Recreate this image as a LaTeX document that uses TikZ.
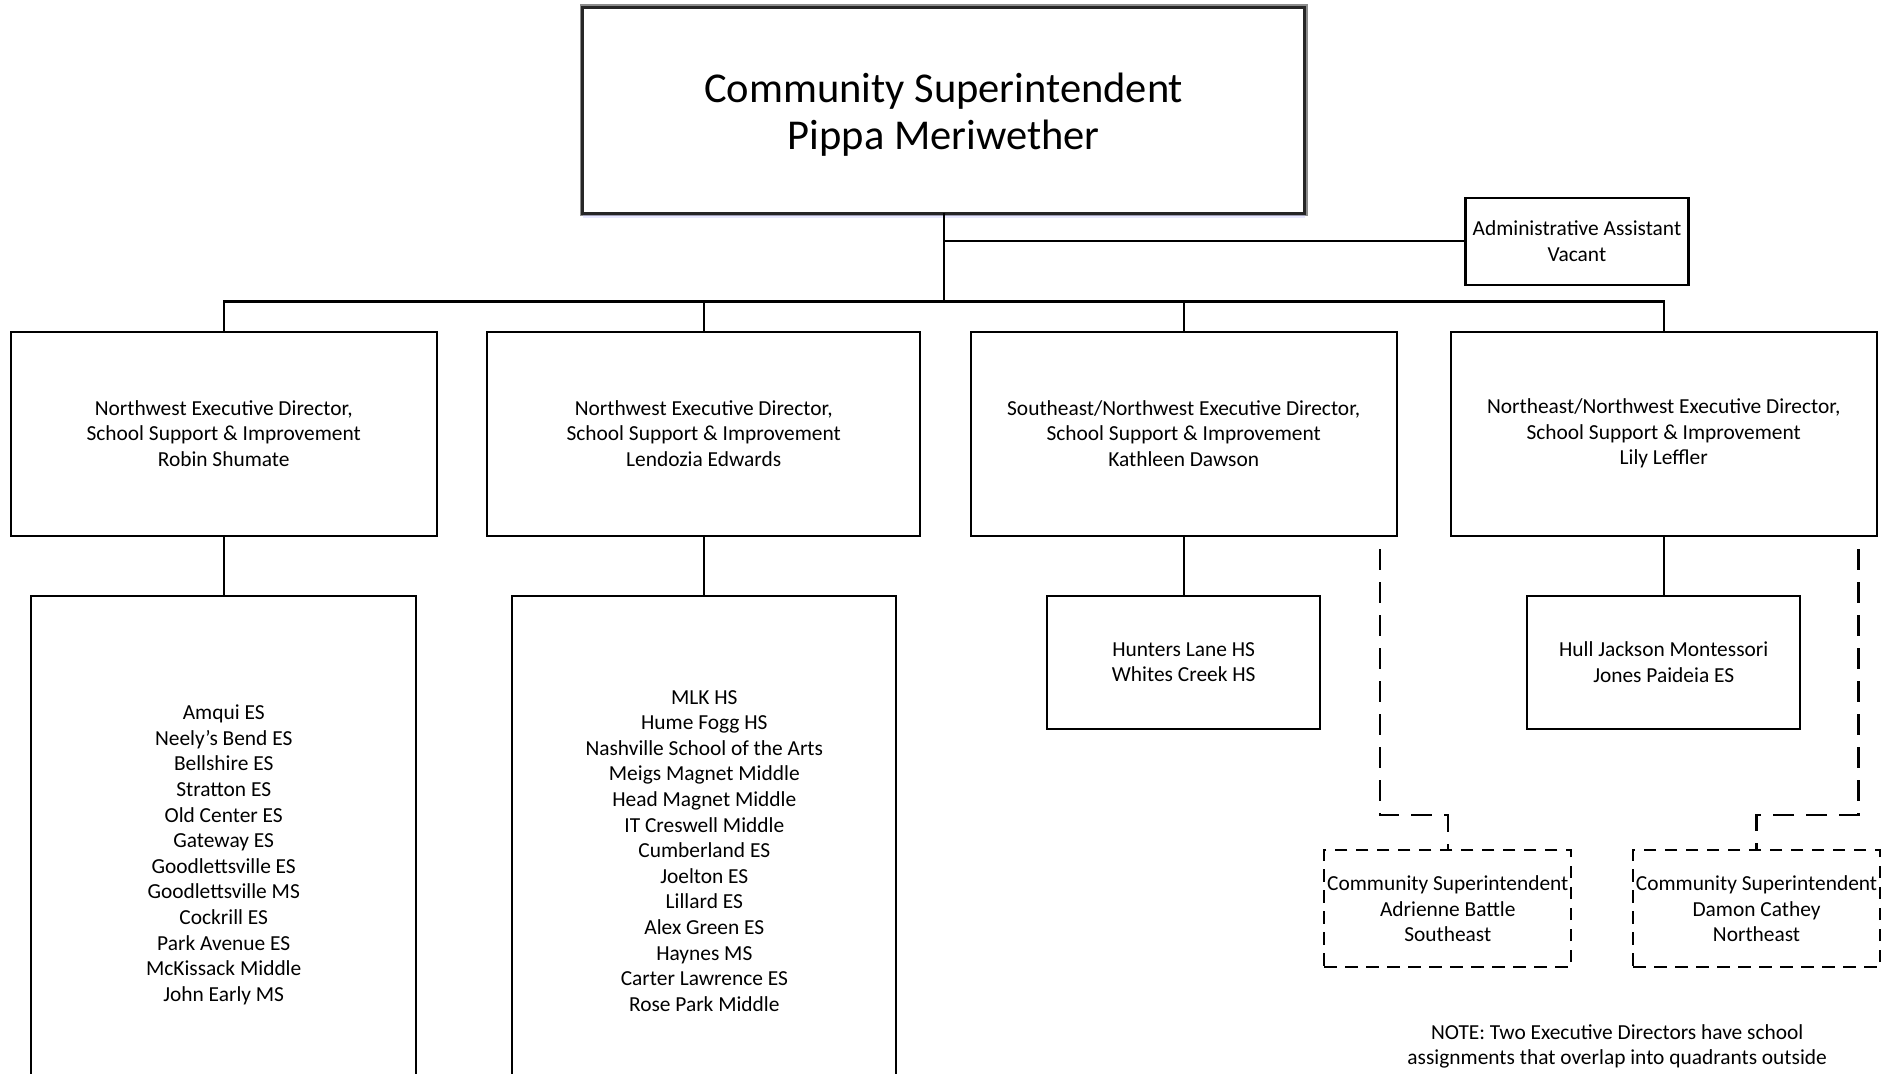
\documentclass[tikz,border=0pt]{standalone}
\usepackage{fontspec}
\setmainfont{Carlito}
\usetikzlibrary{shadows}
\tikzset{
  x=1pt,y=-1pt,
  box/.style={draw=black,line width=2.2pt,fill=white,inner sep=0pt,outer sep=0pt,align=center,
    font=\fontsize{21.4}{25.6}\selectfont},
  dbox/.style={box,dash pattern=on 12.5pt off 8.5pt},
  conn/.style={draw=black,line width=2.2pt},
  dconn/.style={conn,dash pattern=on 21pt off 12pt,dash phase=21pt},
  topbox/.style={box,draw=black!85,line width=3.2pt,
    preaction={draw=black!45,line width=6pt},
    drop shadow={shadow xshift=0pt,shadow yshift=-5pt,fill=blue!25,opacity=.35},
    font=\fontsize{42.5}{47}\selectfont},
  notetext/.style={align=center,inner sep=0pt,font=\fontsize{21.4}{25.6}\selectfont}
}
\begin{document}
\begin{tikzpicture}
\useasboundingbox (0,0) rectangle (1891,1074);
\clip (0,0) rectangle (1891,1074);
\fill[white] (0,0) rectangle (1891,1074);

\node[topbox,minimum width=722pt,minimum height=206pt] (top) at (943.7,110.3)
  {\raisebox{-12.8pt}[0pt][0pt]{\begin{tabular}{@{}c@{}}Community Superintendent\\Pippa Meriwether\end{tabular}}};
\node[box,minimum width=223pt,minimum height=87pt] (admin) at (1576.9,241.2)
  {Administrative Assistant\\Vacant};

\node[box,minimum width=426pt,minimum height=204pt] (d1) at (223.7,433.6)
  {Northwest Executive Director,\\School Support \& Improvement\\Robin Shumate};
\node[box,minimum width=433pt,minimum height=204pt] (d2) at (703.7,433.6)
  {Northwest Executive Director,\\School Support \& Improvement\\Lendozia Edwards};
\node[box,minimum width=426pt,minimum height=204pt] (d3) at (1183.7,433.6)
  {Southeast/Northwest Executive Director,\\School Support \& Improvement\\Kathleen Dawson};
\node[box,minimum width=426pt,minimum height=204pt] (d4) at (1663.7,433.6)
  {Northeast/Northwest Executive Director,\\School Support \& Improvement\\Lily Leffler};

\node[box,minimum width=385pt,minimum height=518pt] (s1) at (223.7,854.8)
  {Amqui ES\\Neely’s Bend ES\\Bellshire ES\\Stratton ES\\Old Center ES\\Gateway ES\\Goodlettsville ES\\Goodlettsville MS\\Cockrill ES\\Park Avenue ES\\McKissack Middle\\John Early MS};
\node[box,minimum width=384pt,minimum height=510pt] (s2) at (704.3,850.8)
  {MLK HS\\Hume Fogg HS\\Nashville School of the Arts\\Meigs Magnet Middle\\Head Magnet Middle\\IT Creswell Middle\\Cumberland ES\\Joelton ES\\Lillard ES\\Alex Green ES\\Haynes MS\\Carter Lawrence ES\\Rose Park Middle};
\node[box,minimum width=273pt,minimum height=133pt] (c3) at (1183.7,662.1)
  {Hunters Lane HS\\Whites Creek HS};
\node[box,minimum width=273pt,minimum height=133pt] (c4) at (1663.7,662.1)
  {Hull Jackson Montessori\\Jones Paideia ES};

\node[dbox,minimum width=247pt,minimum height=117pt] (dA) at (1447.8,908.7)
  {Community Superintendent\\Adrienne Battle\\Southeast};
\node[dbox,minimum width=247pt,minimum height=117pt] (dB) at (1756.5,908.7)
  {Community Superintendent\\Damon Cathey\\Northeast};

\node[notetext,anchor=north] (note) at (1617.2,1024)
  {NOTE: Two Executive Directors have school\\assignments that overlap into quadrants outside};

% connectors
\coordinate (bus) at (943.7,301.5);
\draw[conn] (top.south) -- (bus);
\draw[conn] (top.south |- admin.west) -- (admin.west);
\draw[conn] (d1.north) |- (d4.north |- bus) -- (d4.north);
\draw[conn] (d2.north) -- (d2.north |- bus);
\draw[conn] (d3.north) -- (d3.north |- bus);
\draw[conn] (d1.south) -- (d1.south |- s1.north);
\draw[conn] (d2.south) -- (d2.south |- s2.north);
\draw[conn] (d3.south) -- (c3.north);
\draw[conn] (d4.south) -- (c4.north);

\coordinate (a1) at (1380,537);
\coordinate (ajoin) at (1447.8,814.7);
\draw[dconn] (a1) |- (ajoin) -- (dA.north);
\coordinate (b1) at (1858.4,537);
\coordinate (bjoin) at (1756.5,814.7);
\draw[dconn] (b1) |- (bjoin) -- (dB.north);
\end{tikzpicture}
\end{document}
